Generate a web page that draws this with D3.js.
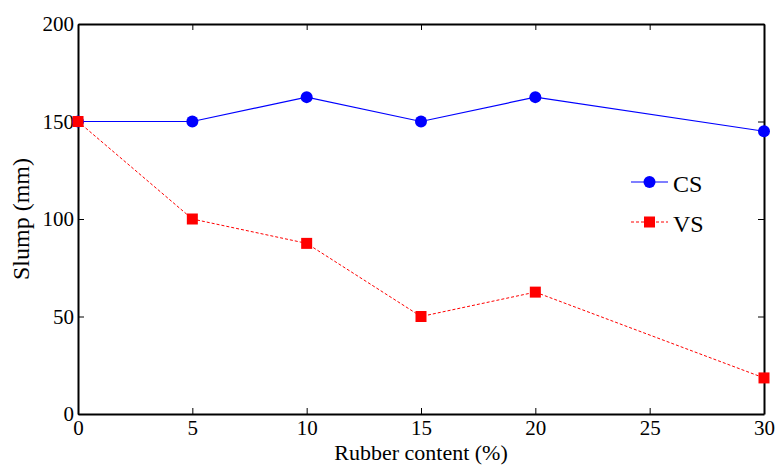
<!DOCTYPE html>
<html>
<head>
<meta charset="utf-8">
<script src="https://cdn.jsdelivr.net/npm/d3@7"></script>
<style>
  body { margin: 0; background: #fff; }
  svg text { font-family: "Liberation Serif", "Times New Roman", Times, Tinos, serif !important; }
</style>
</head>
<body>
<script>
const rubber = [0, 5, 10, 15, 20, 30];
const csSlump = [150, 150, 162.5, 150, 162.5, 145];
const vsSlump = [150, 100, 87.5, 50, 62.5, 18.5];
const xTicks = [0, 5, 10, 15, 20, 25, 30];
const yTicks = [0, 50, 100, 150, 200];

const width = 780, height = 465;
const margin = {top: 24, right: 16, bottom: 51, left: 78};

const svg = d3.select("body").append("svg")
    .attr("width", width)
    .attr("height", height);

const x = d3.scaleLinear().domain([0, 30]).range([margin.left, width - margin.right]);
const y = d3.scaleLinear().domain([0, 200]).range([height - margin.bottom, margin.top]);

// inward ticks on all four sides
const tickLen = 6;
svg.append("g")
    .attr("transform", `translate(0,${y(0)})`)
    .call(d3.axisBottom(x).tickValues(xTicks).tickSizeInner(-tickLen).tickSizeOuter(0).tickPadding(6));

svg.append("g")
    .attr("transform", `translate(${x(0)},0)`)
    .call(d3.axisLeft(y).tickValues(yTicks).tickSizeInner(-tickLen).tickSizeOuter(0).tickPadding(4));

svg.append("g")
    .attr("transform", `translate(0,${y(200)})`)
    .call(d3.axisTop(x).tickValues(xTicks).tickSizeInner(-tickLen).tickSizeOuter(0).tickFormat(""));
svg.append("g")
    .attr("transform", `translate(${x(30)},0)`)
    .call(d3.axisRight(y).tickValues(yTicks).tickSizeInner(-tickLen).tickSizeOuter(0).tickFormat(""));

svg.selectAll("g").attr("font-family", null);
svg.selectAll(".tick text")
    .style("font-size", "21px")
    .attr("fill", "#000");
svg.selectAll(".domain").attr("stroke", "#000").attr("stroke-width", 2);
svg.selectAll(".tick line").attr("stroke", "#000");

const line = d3.line().x(d => x(d[0])).y(d => y(d[1]));

const csData = rubber.map((r, i) => [r, csSlump[i]]);
const vsData = rubber.map((r, i) => [r, vsSlump[i]]);

const plot = svg.append("g");

plot.append("path")
    .datum(csData)
    .attr("fill", "none")
    .attr("stroke", "#0000ff")
    .attr("stroke-width", 1.2)
    .attr("d", line);

plot.append("path")
    .datum(vsData)
    .attr("fill", "none")
    .attr("stroke", "#ff0000")
    .attr("stroke-width", 1)
    .attr("stroke-dasharray", "3,2")
    .attr("d", line);

plot.selectAll("circle.cs")
  .data(csData)
  .join("circle")
    .attr("class", "cs")
    .attr("cx", d => x(d[0]))
    .attr("cy", d => y(d[1]))
    .attr("r", 6)
    .attr("fill", "#0000ff");

const sq = 11;
plot.selectAll("rect.vs")
  .data(vsData)
  .join("rect")
    .attr("class", "vs")
    .attr("x", d => x(d[0]) - sq / 2)
    .attr("y", d => y(d[1]) - sq / 2)
    .attr("width", sq)
    .attr("height", sq)
    .attr("fill", "#ff0000");

// legend
const legend = svg.append("g").attr("transform", "translate(631,182)");
legend.append("line").attr("x1", 0).attr("x2", 37).attr("y1", 0).attr("y2", 0)
    .attr("stroke", "#0000ff").attr("stroke-width", 1.2);
legend.append("circle").attr("cx", 18.5).attr("cy", 0).attr("r", 6).attr("fill", "#0000ff");
legend.append("text").attr("x", 42).attr("y", 10)
    .style("font-size", "24px").text("CS");

legend.append("line").attr("x1", 0).attr("x2", 37).attr("y1", 40).attr("y2", 40)
    .attr("stroke", "#ff0000").attr("stroke-width", 1).attr("stroke-dasharray", "3,2");
legend.append("rect").attr("x", 18.5 - sq / 2).attr("y", 40 - sq / 2).attr("width", sq).attr("height", sq).attr("fill", "#ff0000");
legend.append("text").attr("x", 42).attr("y", 50)
    .style("font-size", "24px").text("VS");

// axis titles
svg.append("text")
    .attr("x", (x(0) + x(30)) / 2)
    .attr("y", 460)
    .attr("text-anchor", "middle")
    .style("font-size", "22px")
    .text("Rubber content (%)");

svg.append("text")
    .attr("transform", `translate(29,${(y(0) + y(200)) / 2}) rotate(-90)`)
    .attr("text-anchor", "middle")
    .style("font-size", "24px")
    .text("Slump (mm)");
</script>
</body>
</html>
